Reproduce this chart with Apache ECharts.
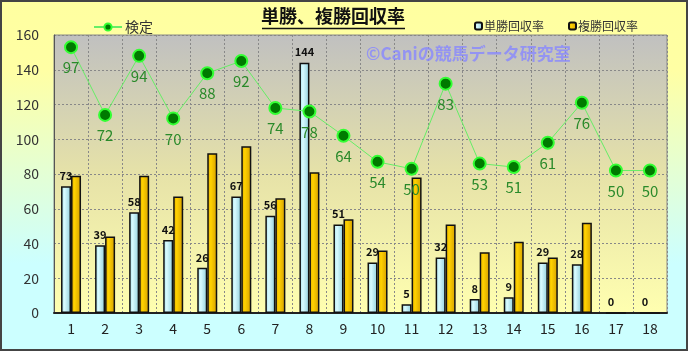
<!DOCTYPE html>
<html>
<head>
<meta charset="utf-8">
<script src="https://cdn.jsdelivr.net/npm/echarts@6/dist/echarts.min.js"></script>
<style>
  html, body { margin: 0; padding: 0; }
  #chart { width: 688px; height: 351px; }
</style>
</head>
<body>
<div id="chart"></div>
<script>
// data
const categories = ['1', '2', '3', '4', '5', '6', '7', '8', '9', '10', '11', '12', '13', '14', '15', '16', '17', '18']
const tanshoRate = [73, 39, 58, 42, 26, 67, 56, 144, 51, 29, 5, 32, 8, 9, 29, 28, 0, 0]
const fukushoRate = [79, 44, 79, 67, 92, 96, 66, 81, 54, 36, 78, 51, 35, 41, 32, 52, 0, 0]
// 検定: plotted height and the number printed under each point
const kenteiPlot = [153, 114, 148, 112, 138, 145, 118, 116, 102, 87, 83, 132, 86, 84, 98, 121, 82, 82]
const kenteiLabel = [97, 72, 94, 70, 88, 92, 74, 78, 64, 54, 50, 83, 53, 51, 61, 76, 50, 50]
const yTicks = { min: 0, max: 160, interval: 20 }

const FONT = '"Noto Sans CJK JP", "Noto Sans", sans-serif'

const chart = echarts.init(document.getElementById('chart'))

const option = {
  animation: false,
  backgroundColor: {
    type: 'linear', x: 0, y: 0, x2: 0, y2: 1,
    colorStops: [
      { offset: 0, color: '#ffffa0' },
      { offset: 0.2, color: '#ffffa4' },
      { offset: 0.75, color: '#ccffff' },
      { offset: 1, color: '#ccffff' }
    ]
  },
  textStyle: { fontFamily: FONT },
  title: {
    text: '単勝、複勝回収率',
    left: 261,
    top: 7,
    padding: 0,
    textStyle: { fontSize: 18, fontWeight: 'bold', color: '#111', fontFamily: FONT }
  },
  legend: [
    {
      data: ['検定'],
      left: 88,
      top: 15,
      itemWidth: 28,
      itemHeight: 9,
      itemGap: 4,
      textStyle: { fontSize: 14, color: '#333', fontFamily: FONT, padding: [0, 0, 0, -2] }
    },
    {
      data: ['単勝回収率', '複勝回収率'],
      left: 469,
      top: 15,
      itemWidth: 7,
      itemHeight: 7,
      itemGap: 24,
      textStyle: { fontSize: 12, color: '#333', fontFamily: FONT, padding: [0, 0, 0, -3] }
    }
  ],
  grid: {
    left: 54, right: 21, top: 35, bottom: 38,
    show: true,
    borderColor: '#888',
    borderWidth: 1,
    backgroundColor: {
      type: 'linear', x: 0, y: 0, x2: 0, y2: 1,
      colorStops: [
        { offset: 0, color: '#c0c0c0' },
        { offset: 0.5, color: '#e6e2a8' },
        { offset: 1, color: '#ffffb0' }
      ]
    }
  },
  xAxis: {
    type: 'category',
    data: categories,
    axisLine: { lineStyle: { color: '#222', width: 2 } },
    axisTick: { show: false },
    axisLabel: { fontSize: 14, color: '#222', margin: 9, fontFamily: FONT },
    splitLine: { show: true, lineStyle: { color: '#888', type: [2, 2], width: 1 } }
  },
  yAxis: {
    type: 'value',
    min: yTicks.min,
    max: yTicks.max,
    interval: yTicks.interval,
    axisLine: { show: true, lineStyle: { color: '#555', width: 1 } },
    axisTick: { show: false },
    axisLabel: { fontSize: 14, color: '#333', margin: 15, fontFamily: FONT },
    splitLine: { show: true, lineStyle: { color: '#888', type: [2, 2], width: 1 } }
  },
  series: [
    {
      name: '単勝回収率',
      type: 'bar',
      data: tanshoRate,
      barWidth: 10,
      barGap: '0%',
      itemStyle: {
        color: {
          type: 'linear', x: 0, y: 0, x2: 1, y2: 0,
          colorStops: [
            { offset: 0, color: '#a4dde8' },
            { offset: 0.35, color: '#d8fbff' },
            { offset: 1, color: '#90cedc' }
          ]
        },
        borderColor: '#111',
        borderWidth: 1.5
      },
      label: {
        show: true,
        position: 'top',
        distance: 5,
        fontSize: 11,
        fontWeight: 'bold',
        color: '#111',
        fontFamily: FONT
      },
      z: 2
    },
    {
      name: '複勝回収率',
      type: 'bar',
      data: fukushoRate,
      barWidth: 10,
      itemStyle: {
        color: {
          type: 'linear', x: 0, y: 0, x2: 1, y2: 0,
          colorStops: [
            { offset: 0, color: '#e0a800' },
            { offset: 0.35, color: '#ffd200' },
            { offset: 1, color: '#d49e00' }
          ]
        },
        borderColor: '#111',
        borderWidth: 1.5
      },
      z: 2
    },
    {
      name: '検定',
      type: 'line',
      data: kenteiPlot,
      symbol: 'circle',
      symbolSize: 12,
      lineStyle: { color: '#66ee66', width: 1 },
      itemStyle: { color: '#007a00', borderColor: '#33ff33', borderWidth: 2 },
      label: {
        show: true,
        position: 'bottom',
        distance: 6,
        fontSize: 15,
        color: '#2a8a2a',
        fontFamily: FONT,
        formatter: p => kenteiLabel[p.dataIndex]
      },
      z: 5
    }
  ],
  graphic: [
    {
      type: 'line',
      shape: { x1: 262, y1: 28.5, x2: 405, y2: 28.5 },
      style: { stroke: '#111', lineWidth: 1.5 },
      z: 10
    },
    {
      type: 'text',
      left: 366,
      top: 45,
      style: {
        text: '©Caniの競馬データ研究室',
        fontSize: 17,
        fontWeight: 'bold',
        fill: 'rgba(135, 135, 255, 0.8)',
        fontFamily: FONT
      },
      z: 1
    },
    {
      type: 'rect',
      shape: { x: 1, y: 1, width: 686, height: 349 },
      style: { fill: 'none', stroke: '#444', lineWidth: 2 },
      z: 20
    }
  ]
}

chart.setOption(option)
</script>
</body>
</html>
